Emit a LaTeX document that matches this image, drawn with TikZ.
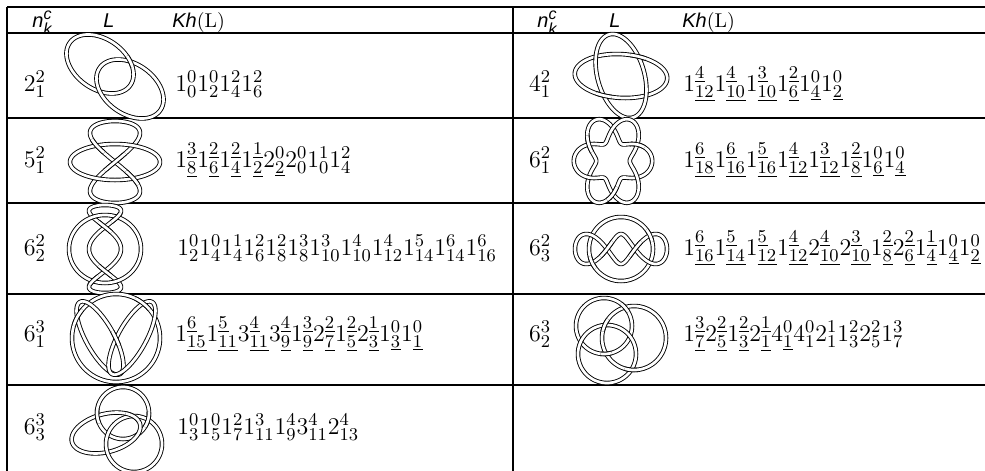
\documentclass[tikz,border=0pt,12pt]{standalone}
\usepackage{fontspec}
\newfontfamily\headfont{Liberation Sans}
\usetikzlibrary{positioning}
\newcommand{\un}[1]{\underline{#1}}
\tikzset{
    %Define style for the table rules
    tablerule/.style={line width=1pt},
    %Define style for the knot strands
    strand/.style={
           line width=0.45pt,
           double=white,
           double distance=1.35pt,
           line join=round},
    fullloop/.style={domain=0:360, samples=181},
    piece/.style={samples=13},
    %Define style for the texts
    knotname/.style={anchor=base, font=\fontsize{12.3pt}{14pt}\selectfont},
    khtext/.style={anchor=base west, font=\fontsize{12.3pt}{14pt}\selectfont},
    headtext/.style={anchor=base west, font=\fontsize{10pt}{12pt}\selectfont\headfont\itshape},
    %Define the curves of the knots
    declare function={
        hopfx(\t)=100+30.31*cos(\t)-14.34*sin(\t);
        hopfy(\t)=64+21.22*cos(\t)+20.48*sin(\t);
        wideox(\t)=621+46*cos(\t)-4.4*sin(\t);
        wideoy(\t)=76-22*sin(\t);
        tallox(\t)=621+24*cos(\t)-8.4*sin(\t);
        talloy(\t)=76-42*sin(\t);
        starx(\t,\k)=613+28*(1+(\k)*0.4*cos(3*\t))*cos(\t);
        stary(\t,\k)=161-33*(1+(\k)*0.4*cos(3*\t))*sin(\t);
        eightx(\t)=115+25*sin(2*\t);
        eighty(\t)=162-41*cos(\t);
        ringx(\t)=115+45*cos(\t);
        ringy(\t)=162-18*sin(\t);
        chainx(\t)=105+16*sin(3*\t);
        chainy(\t)=249-44*cos(\t);
        wavex(\t)=621+40*cos(\t)+6*cos(3*\t);
        wavey(\t)=249+15*sin(3*\t);
        armx(\t,\m)=116+(\m)*(-16-19.98*cos(\t)+12.24*sin(\t));
        army(\t)=338-36*cos(\t)-6.79*sin(\t);
        lensx(\t)=106+34*cos(\t)+4.86*sin(\t);
        lensy(\t)=433-9*cos(\t)+18.35*sin(\t);
    }
}
\begin{document}
\begin{tikzpicture}[x=0.5pt, y=-0.5pt]
\useasboundingbox (0,0) rectangle (985,471);
%table
\draw[tablerule] (7,7) -- (985,7);
\foreach \y in {33,118,203,294,385}
    \draw[tablerule] (7,\y) -- (985,\y);
\foreach \x in {7,513}
    \draw[tablerule] (\x,7) -- (\x,471);

%head row
\node[headtext] (nhead1) at (24,27) {$\mbox{n}^{\mbox{\scriptsize c}}_{\mbox{\scriptsize k}}$};
\node[headtext, anchor=base] (lhead1) at (109,27) {L};
\node[headtext, font=\fontsize{10pt}{12pt}\selectfont] (khhead1) at (164,27) {{\headfont\itshape Kh}(L)};
\node[headtext] (nhead2) at (529,27) {$\mbox{n}^{\mbox{\scriptsize c}}_{\mbox{\scriptsize k}}$};
\node[headtext, anchor=base] (lhead2) at (615,27) {L};
\node[headtext, font=\fontsize{10pt}{12pt}\selectfont] (khhead2) at (674,27) {{\headfont\itshape Kh}(L)};

%names of the links
\node[knotname] (n221) at (35,91) {$2^2_1$};
\node[knotname] (n521) at (35,167) {$5^2_1$};
\node[knotname] (n622) at (35,255) {$6^2_2$};
\node[knotname] (n631) at (35,341) {$6^3_1$};
\node[knotname] (n633) at (35,434) {$6^3_3$};
\node[knotname] (n421) at (540,91) {$4^2_1$};
\node[knotname] (n621) at (540,167) {$6^2_1$};
\node[knotname] (n623) at (540,255) {$6^2_3$};
\node[knotname] (n632) at (540,341) {$6^3_2$};

%homology
\node[khtext] (kh221) at (167,91) {$1^0_0 1^0_2 1^2_4 1^2_6$};
\node[khtext] (kh521) at (167,167) {$1^{\un3}_{\un8}1^{\un2}_{\un6}1^{\un2}_{\un4}1^{\un1}_{\un2}2^0_{\un2}2^0_0 1^1_0 1^2_4$};
\node[khtext] (kh622) at (169,255) {$1^0_2 1^0_4 1^1_4 1^2_6 1^2_8 1^3_8 1^3_{10} 1^4_{10} 1^4_{12} 1^5_{14} 1^6_{14} 1^6_{16}$};
\node[khtext] (kh631) at (167,341) {$1^{\un6}_{\un{15}}1^{\un5}_{\un{11}}3^{\un4}_{\un{11}}3^{\un4}_{\un9}1^{\un3}_{\un9}2^{\un2}_{\un7}1^{\un2}_{\un5}2^{\un1}_{\un3}1^0_{\un3}1^0_{\un1}$};
\node[khtext] (kh633) at (169,434) {$1^0_3 1^0_5 1^2_7 1^3_{11} 1^4_9 3^4_{11} 2^4_{13}$};
\node[khtext] (kh421) at (675,91) {$1^{\un4}_{\un{12}}1^{\un4}_{\un{10}}1^{\un3}_{\un{10}}1^{\un2}_{\un6}1^0_{\un4}1^0_{\un2}$};
\node[khtext] (kh621) at (675,167) {$1^{\un6}_{\un{18}}1^{\un6}_{\un{16}}1^{\un5}_{\un{16}}1^{\un4}_{\un{12}}1^{\un3}_{\un{12}}1^{\un2}_{\un8}1^0_{\un6}1^0_{\un4}$};
\node[khtext] (kh623) at (675,255) {$1^{\un6}_{\un{16}}1^{\un5}_{\un{14}}1^{\un5}_{\un{12}}1^{\un4}_{\un{12}}2^{\un4}_{\un{10}}2^{\un3}_{\un{10}}1^{\un2}_{\un8}2^{\un2}_{\un6}1^{\un1}_{\un4}1^0_{\un4}1^0_{\un2}$};
\node[khtext] (kh632) at (675,341) {$1^{\un3}_{\un7}2^{\un2}_{\un5}1^{\un2}_{\un3}2^{\un1}_{\un1}4^0_{\un1}4^0_1 2^1_1 1^2_3 2^2_5 1^3_7$};

%2^2_1
\draw[strand] plot[fullloop] ({hopfx(\x)},{hopfy(\x)}) -- cycle;
\draw[strand] plot[fullloop] ({hopfx(\x)+30},{hopfy(\x)+25}) -- cycle;
\draw[strand] plot[piece, domain=-62:-40] ({hopfx(\x)},{hopfy(\x)});

%4^2_1
\draw[strand] plot[fullloop] ({wideox(\x)},{wideoy(\x)}) -- cycle;
\draw[strand] plot[fullloop] ({tallox(\x)},{talloy(\x)}) -- cycle;
\foreach \a/\b in {52/73,232/253}
    \draw[strand] plot[piece, domain=\a:\b] ({wideox(\x)},{wideoy(\x)});

%5^2_1
\draw[strand] plot[fullloop] ({eightx(\x)},{eighty(\x)}) -- cycle;
\draw[strand] plot[fullloop] ({ringx(\x)},{ringy(\x)}) -- cycle;
\foreach \a/\b in {78/102,236/257,283/304}
    \draw[strand] plot[piece, domain=\a:\b] ({eightx(\x)},{eighty(\x)});

%6^2_1
\draw[strand] plot[fullloop] ({starx(\x,1)},{stary(\x,1)}) -- cycle;
\draw[strand] plot[fullloop] ({starx(\x,-1)},{stary(\x,-1)}) -- cycle;
\foreach \a/\b in {20/40,140/160,260/280}
    \draw[strand] plot[piece, domain=\a:\b] ({starx(\x,1)},{stary(\x,1)});

%6^2_2
\draw[strand] plot[fullloop] ({chainx(\x)},{chainy(\x)}) -- cycle;
\draw[strand] plot[fullloop] ({105+36*cos(\x)},{249-34*sin(\x)}) -- cycle;
\foreach \a/\b in {35/52,215/232,112/128,292/308}
    \draw[strand] plot[piece, domain=\a:\b] ({chainx(\x)},{chainy(\x)});

%6^2_3
\draw[strand] plot[fullloop] ({621+32*cos(\x)},{249+32*sin(\x)}) -- cycle;
\draw[strand] plot[fullloop] ({wavex(\x)},{wavey(\x)}) -- cycle;
\foreach \a/\b in {143/167,323/347}
    \draw[strand] plot[piece, domain=\a:\b] ({621+32*cos(\x)},{249+32*sin(\x)});
\foreach \a/\b in {110/130,290/310}
    \draw[strand] plot[piece, domain=\a:\b] ({wavex(\x)},{wavey(\x)});

%6^3_1
\draw[strand] plot[fullloop] ({116+44*cos(\x)},{338+44*sin(\x)}) -- cycle;
\draw[strand] plot[fullloop] ({armx(\x,1)},{army(\x)}) -- cycle;
\draw[strand] plot[fullloop] ({armx(\x,-1)},{army(\x)}) -- cycle;
\foreach \a/\b in {196/220,-64/-40}
    \draw[strand] plot[piece, domain=\a:\b] ({116+44*cos(\x)},{338+44*sin(\x)});
\draw[strand] plot[piece, domain=90:113] ({armx(\x,1)},{army(\x)});

%6^3_2
\draw[strand] plot[fullloop] ({604+28*cos(\x)},{326+28*sin(\x)}) -- cycle;
\draw[strand] plot[fullloop] ({634+32*cos(\x)},{338+32*sin(\x)}) -- cycle;
\draw[strand] plot[fullloop] ({607+29*cos(\x)},{354+29*sin(\x)}) -- cycle;
\foreach \a/\b in {74/97,-53/-30}
    \draw[strand] plot[piece, domain=\a:\b] ({604+28*cos(\x)},{326+28*sin(\x)});
\foreach \a/\b in {192/216,83/107}
    \draw[strand] plot[piece, domain=\a:\b] ({634+32*cos(\x)},{338+32*sin(\x)});

%6^3_3
\draw[strand] plot[fullloop] ({123+26*cos(\x)},{413+26*sin(\x)}) -- cycle;
\draw[strand] plot[fullloop] ({lensx(\x)},{lensy(\x)}) -- cycle;
\draw[strand] plot[fullloop] ({134+28*cos(\x)},{444+28*sin(\x)}) -- cycle;
\foreach \px/\py in {96.8/416,148.1/419.8}{
    \begin{scope}
        \clip (\px,\py) circle[radius=4pt];
        \draw[strand] plot[fullloop] ({123+26*cos(\x)},{413+26*sin(\x)}) -- cycle;
    \end{scope}}
\begin{scope}
    \clip (133,416) circle[radius=4pt];
    \draw[strand] plot[fullloop] ({lensx(\x)},{lensy(\x)}) -- cycle;
\end{scope}
\end{tikzpicture}
\end{document}
